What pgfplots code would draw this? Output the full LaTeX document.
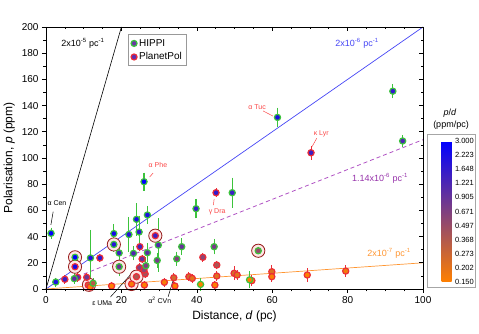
\documentclass[border=0pt]{standalone}
\usepackage{fontspec}
\setmainfont{Liberation Sans}
\usepackage{pgfplots}
\pgfplotsset{compat=1.18}
\usepackage{pgfplotstable}

\definecolor{hgreen}{RGB}{60,195,60}
\definecolor{pred}{RGB}{235,45,55}
\definecolor{lblred}{RGB}{250,70,70}
\definecolor{lblue}{RGB}{70,70,245}
\definecolor{lpurp}{RGB}{175,80,195}
\definecolor{tpurp}{RGB}{150,50,170}
\definecolor{lorange}{RGB}{255,150,50}
\definecolor{ringred}{RGB}{150,30,30}
\definecolor{legfillA}{RGB}{105,55,165}
\definecolor{legfillB}{RGB}{95,45,175}

% distance d (pc), polarisation p (ppm), error e (ppm)
\pgfplotstableread{
d p e
1.34 42.5 2
2.6 5.3 1
7.5 7.9 1.5
7.7 24.2 2
11.8 23.7 19
12.5 4.4 1.5
18.0 42.3 5
18.0 34.0 3
19.4 27.5 3
19.4 17.0 5
22.0 41.6 11
24.0 53.2 10
24.7 43.5 10
26.9 56.5 4.5
26.0 81.9 4.5
23.2 27.2 3
26.9 27.7 5
26.5 17.8 4
29.8 33.5 18
29.5 21.8 3
34.7 23.0 3
36.0 32.3 4
39.8 61.3 5
44.6 32.3 3.5
49.4 73.5 9
41.0 3.5 2.5
54.0 7.0 4
56.3 29.2 3
61.4 131.0 5
92.0 151.0 3
94.6 113.0 2
}\hippi

\pgfplotstableread{
d p e
5.0 7.4 1
8.4 8.9 1
7.7 17.0 1
10.8 8.9 1
11.2 3.0 1
11.7 1.5 1
14.3 23.7 1
17.4 2.3 1
22.7 3.8 1
24.0 9.4 1
24.8 16.3 1
25.5 22.9 1
24.9 32.3 1
26.3 11.5 1
26.1 3.0 1
26.0 14.5 1
29.0 40.7 1
31.4 5.1 1
33.9 8.6 1.5
34.2 2.3 1
37.9 9.4 1
38.8 8.1 1
41.6 24.2 1
45.3 18.3 1
45.1 73.5 1
44.8 3.0 1
45.3 9.9 1.5
49.9 12.0 3
50.7 10.7 1.5
54.6 6.4 2
59.9 13.2 2.5
59.9 9.4 1.5
69.3 10.7 3
79.5 13.7 2
70.3 104.0 3
}\planetpol

\pgfplotstableread{
d p
7.7 24.2
7.7 17.0
11.4 3.2
18.0 34.0
19.4 17.0
22.7 3.8
24.0 9.4
29.0 40.7
56.3 29.2
}\rings

\begin{document}
\begin{tikzpicture}
\begin{axis}[name=main, scale only axis, width=377pt, height=262pt,
  xmin=0, xmax=100, ymin=0, ymax=200,
  xtick distance=20, ytick distance=20, minor x tick num=3, minor y tick num=1,
  xtick pos=bottom, ytick pos=left, tick align=outside,
  major tick length=4pt, minor tick length=2.5pt,
  tick style={black, line width=0.6pt}, axis line style={line width=0.7pt},
  xlabel={Distance, \textit{d} (pc)}, ylabel={Polarisation, \textit{p} (ppm)},
  label style={font=\fontsize{12}{14}\selectfont},
  tick label style={font=\fontsize{10}{12}\selectfont},
  /pgf/number format/assume math mode=true,
  clip=false,
  colormap={pd}{rgb255(0cm)=(255,128,0); rgb255(1cm)=(0,0,255)},
  point meta min=-1.8971, point meta max=1.0986,
  colorbar,
  colorbar style={at={(parent axis.south east)}, anchor=south west,
    xshift=10pt, yshift=7pt, scale only axis, width=10pt, height=141pt,
    ytick={-1.8971,-1.5976,-1.2980,-0.9984,-0.6989,-0.3993,-0.0997,0.1998,0.4994,0.7990,1.0986},
    yticklabels={0.150,0.202,0.273,0.368,0.497,0.671,0.905,1.221,1.648,2.223,3.000},
    yticklabel style={font=\fontsize{7.5}{9}\selectfont},
    major tick length=0pt, axis line style={draw=none}},
  legend style={at={(0.218,0.972)}, anchor=north west, draw=gray!80, line width=0.8pt,
    font=\fontsize{10}{12}\selectfont, row sep=1pt, inner sep=2.5pt},
  legend cell align=left]

\addplot[black, line width=0.6pt, forget plot] coordinates {(0,0) (20,200)};
\addplot[lblue, line width=0.7pt, forget plot] coordinates {(0,0) (100,200)};
\addplot[lpurp, line width=0.8pt, dash pattern=on 4pt off 3pt, forget plot] coordinates {(10,11.4) (100,114)};
\addplot[lorange, line width=0.7pt, forget plot] coordinates {(0,0) (100,20)};

\addplot[only marks, mark=*, mark size=6.6pt, mark options={draw=ringred, fill=red!10, line width=0.8pt}, forget plot] table[x=d, y=p] {\rings};

\addplot[scatter, only marks, mark=*, mark size=3.1pt, forget plot,
  scatter/use mapped color={draw=pred, fill=mapped color}, mark options={line width=1.2pt},
  point meta={ln(\thisrow{p}/\thisrow{d})},
  error bars/.cd, y dir=both, y explicit,
  error bar style={pred, line width=1pt}, error mark options={pred, line width=1pt, mark size=3pt}]
  table[x=d, y=p, y error=e] {\planetpol};

\addplot[scatter, only marks, mark=*, mark size=3.1pt, forget plot,
  scatter/use mapped color={draw=hgreen, fill=mapped color}, mark options={line width=1.2pt},
  point meta={ln(\thisrow{p}/\thisrow{d})},
  error bars/.cd, y dir=both, y explicit,
  error bar style={hgreen, line width=1.1pt}, error mark options={hgreen, line width=1.1pt, mark size=3.2pt}]
  table[x=d, y=p, y error=e] {\hippi};

\addlegendimage{only marks, mark=*, mark size=3pt, mark options={draw=hgreen, fill=legfillA, line width=1.2pt}}
\addlegendentry{HIPPI}
\addlegendimage{only marks, mark=*, mark size=3pt, mark options={draw=pred, fill=legfillB, line width=1.2pt}}
\addlegendentry{PlanetPol}

% line labels
\node[font=\fontsize{9}{11}\selectfont] at (axis cs:9.8,187.8) {2x10\textsuperscript{-5} pc\textsuperscript{-1}};
\node[font=\fontsize{9}{11}\selectfont, text=lblue] at (axis cs:82.5,187.8) {2x10\textsuperscript{-6} pc\textsuperscript{-1}};
\node[font=\fontsize{9}{11}\selectfont, text=tpurp] at (axis cs:88.6,84.7) {1.14x10\textsuperscript{-6} pc\textsuperscript{-1}};
\node[font=\fontsize{9}{11}\selectfont, text=lorange] at (axis cs:91,27.5) {2x10\textsuperscript{-7} pc\textsuperscript{-1}};

% star names
\node[font=\fontsize{7}{8}\selectfont] at (axis cs:2.9,65.6) {α Cen};
\draw[black, line width=0.5pt] (axis cs:1.9,59) -- (axis cs:1.3,49);
\node[font=\fontsize{7}{8}\selectfont, text=lblred] at (axis cs:29.7,94.7) {α Phe};
\draw[lblred, line width=0.5pt] (axis cs:28.4,88.5) -- (axis cs:27.5,85.5);
\node[font=\fontsize{7}{8}\selectfont, text=lblred] at (axis cs:45.4,58.8) {γ Dra};
\draw[lblred, line width=0.5pt] (axis cs:44.6,68.7) -- (axis cs:44.4,64.1);
\node[font=\fontsize{7}{8}\selectfont, text=lblred] at (axis cs:56,139) {α Tuc};
\draw[lblred, line width=0.5pt] (axis cs:57.6,135.9) -- (axis cs:60.2,132);
\node[font=\fontsize{7}{8}\selectfont, text=lblred] at (axis cs:73,118.3) {κ Lyr};
\draw[lblred, line width=0.5pt] (axis cs:71.8,115) -- (axis cs:70.6,108.8);
\node[font=\fontsize{7}{8}\selectfont] at (axis cs:14.9,-10.5) {ε UMa};
\draw[black, line width=0.5pt] (axis cs:17.1,-6.1) -- (axis cs:23.3,13.7);
\node[font=\fontsize{7}{8}\selectfont] at (axis cs:30.2,-8.4) {α\textsuperscript{2} CVn};
\draw[black, line width=0.5pt] (axis cs:32.4,-5.9) -- (axis cs:33.8,7.4);
\end{axis}

\begin{axis}[scale only axis, width=377pt, height=262pt,
  xmin=0, xmax=100, ymin=0, ymax=200,
  xtick distance=20, ytick distance=20, minor x tick num=3, minor y tick num=1,
  xtick pos=top, ytick pos=right, tick align=inside,
  major tick length=4pt, minor tick length=2.5pt,
  tick style={black, line width=0.6pt}, axis line style={line width=0.7pt},
  xticklabels={}, yticklabels={}]
\end{axis}

\draw[gray!70, line width=0.8pt] ([shift={(381pt,2pt)}]main.south west) rectangle ([shift={(429pt,155pt)}]main.south west);
\node[font=\fontsize{9}{11}\selectfont] at ([shift={(404pt,176pt)}]main.south west) {\textit{p}/\textit{d}};
\node[font=\fontsize{9}{11}\selectfont] at ([shift={(405pt,164pt)}]main.south west) {(ppm/pc)};

\pgfresetboundingbox
\path ([shift={(-46pt,-45pt)}]main.south west) rectangle ([shift={(433pt,289pt)}]main.south west);
\end{tikzpicture}
\end{document}
